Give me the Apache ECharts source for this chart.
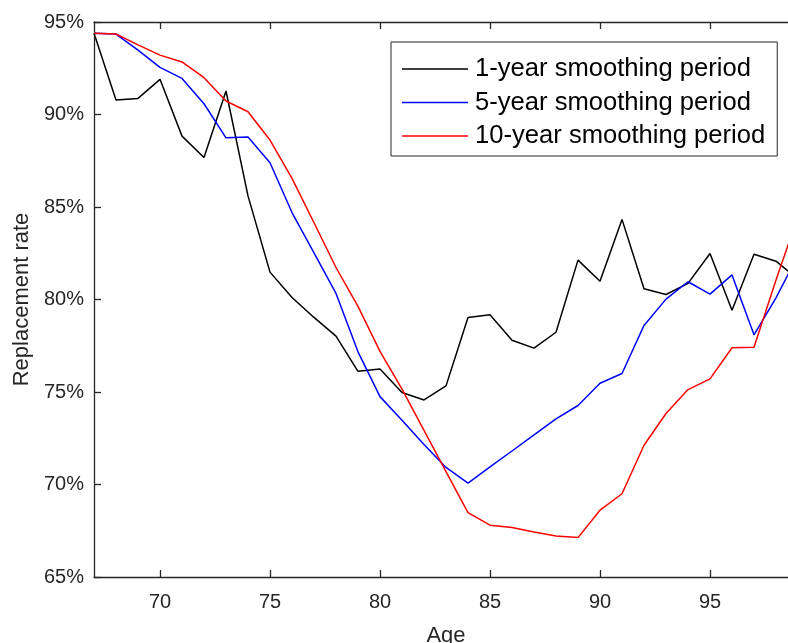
<!DOCTYPE html>
<html>
<head>
<meta charset="utf-8">
<script src="https://cdn.jsdelivr.net/npm/echarts@6/dist/echarts.min.js"></script>
<style>
  html, body { margin: 0; padding: 0; background: #fff; }
  #chart { width: 788px; height: 643px; }
</style>
</head>
<body>
<div id="chart"></div>
<script>
// Ages on the horizontal axis
const ages = [67, 68, 69, 70, 71, 72, 73, 74, 75, 76, 77, 78, 79, 80, 81, 82, 83,
              84, 85, 86, 87, 88, 89, 90, 91, 92, 93, 94, 95, 96, 97, 98, 99];

// Replacement rate (%) for each smoothing period
const oneYear = [94.39, 90.78, 90.87, 91.90, 88.83, 87.68, 91.27, 85.60, 81.48, 80.11, 79.03,
                 78.02, 76.12, 76.24, 74.97, 74.57, 75.33, 79.03, 79.17, 77.80, 77.37, 78.23,
                 82.13, 80.99, 84.33, 80.58, 80.27, 80.87, 82.49, 79.42, 82.45, 82.07, 81.10];
const fiveYear = [94.39, 94.35, 93.48, 92.55, 91.95, 90.58, 88.74, 88.78, 87.39, 84.70, 82.52,
                  80.33, 77.17, 74.75, 73.47, 72.16, 70.92, 70.08, 70.95, 71.81, 72.68, 73.55,
                  74.27, 75.47, 76.00, 78.60, 80.02, 80.96, 80.29, 81.33, 78.09, 80.09, 82.40];
const tenYear = [94.39, 94.35, 93.76, 93.21, 92.84, 91.99, 90.73, 90.15, 88.62, 86.55, 84.15,
                 81.73, 79.63, 77.20, 75.15, 72.93, 70.70, 68.48, 67.80, 67.67, 67.43, 67.22,
                 67.13, 68.61, 69.50, 72.12, 73.84, 75.13, 75.71, 77.39, 77.42, 81.05, 84.50];

const seriesNames = ['1-year smoothing period', '5-year smoothing period', '10-year smoothing period'];

// Tick positions
const xTicks = [70, 75, 80, 85, 90, 95];
const yTicks = [65, 70, 75, 80, 85, 90, 95];

const FONT = '"Liberation Sans", Arial, Helvetica, sans-serif';
const INK = '#262626';

const pairs = vals => ages.map((a, i) => [a, vals[i]]);

const axisLineStyle = { color: INK, width: 1.3 };

const chart = echarts.init(document.getElementById('chart'), null, { renderer: 'canvas' });

chart.setOption({
  animation: false,
  backgroundColor: '#ffffff',
  grid: { left: 94, top: 22, width: 704, height: 555, containLabel: false, outerBoundsMode: 'none' },
  legend: {
    orient: 'vertical',
    left: 391,
    top: 42,
    data: seriesNames,
    icon: 'rect',
    itemWidth: 66,
    itemHeight: 1.5,
    itemGap: 7.5,
    padding: [14, 12, 7, 11],
    borderColor: INK,
    borderWidth: 1,
    backgroundColor: '#ffffff',
    selectedMode: false,
    textStyle: { fontFamily: FONT, fontSize: 25.6, color: '#000', lineHeight: 25, padding: [0, 0, 0, 2] }
  },
  xAxis: [
    {
      type: 'value',
      min: 67,
      max: 99,
      position: 'bottom',
      name: 'Age',
      nameLocation: 'middle',
      nameGap: 48,
      nameTextStyle: { fontFamily: FONT, fontSize: 22, color: INK },
      axisLine: { show: true, onZero: false, lineStyle: axisLineStyle },
      axisTick: { show: true, inside: true, length: 7, customValues: xTicks, lineStyle: axisLineStyle },
      axisLabel: { show: true, customValues: xTicks, margin: 15, fontFamily: FONT, fontSize: 20, color: INK },
      splitLine: { show: false }
    },
    {
      type: 'value',
      min: 67,
      max: 99,
      position: 'top',
      axisLine: { show: true, onZero: false, lineStyle: axisLineStyle },
      axisTick: { show: true, inside: true, length: 7, customValues: xTicks, lineStyle: axisLineStyle },
      axisLabel: { show: false },
      splitLine: { show: false }
    }
  ],
  yAxis: [
    {
      type: 'value',
      min: 65,
      max: 95,
      interval: 5,
      position: 'left',
      name: 'Replacement rate',
      nameLocation: 'middle',
      nameGap: 61,
      nameTextStyle: { fontFamily: FONT, fontSize: 22, color: INK },
      axisLine: { show: true, onZero: false, lineStyle: axisLineStyle },
      axisTick: { show: true, inside: true, length: 7, customValues: yTicks, lineStyle: axisLineStyle },
      axisLabel: { customValues: yTicks, formatter: '{value}%', margin: 10, fontFamily: FONT, fontSize: 20, color: INK },
      splitLine: { show: false }
    },
    {
      type: 'value',
      min: 65,
      max: 95,
      interval: 5,
      position: 'right',
      axisLine: { show: true, onZero: false, lineStyle: axisLineStyle },
      axisTick: { show: true, inside: true, length: 7, lineStyle: axisLineStyle },
      axisLabel: { show: false },
      splitLine: { show: false }
    }
  ],
  series: [
    { name: seriesNames[0], type: 'line', data: pairs(oneYear), showSymbol: false, symbol: 'none',
      color: '#000000', lineStyle: { color: '#000000', width: 1.5 } },
    { name: seriesNames[1], type: 'line', data: pairs(fiveYear), showSymbol: false, symbol: 'none',
      color: '#0000ff', lineStyle: { color: '#0000ff', width: 1.5 } },
    { name: seriesNames[2], type: 'line', data: pairs(tenYear), showSymbol: false, symbol: 'none',
      color: '#ff0000', lineStyle: { color: '#ff0000', width: 1.5 } }
  ]
});
</script>
</body>
</html>
